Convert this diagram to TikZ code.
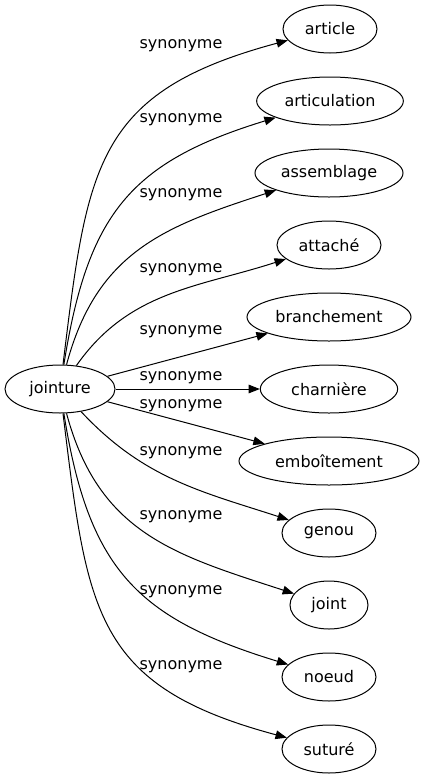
\documentclass[tikz,border=0pt]{standalone}
\usepackage{fontspec}
\setmainfont{DejaVu Sans}
\usetikzlibrary{shapes.geometric,arrows.meta}

\begin{document}
\begin{tikzpicture}[x=0.75pt,y=-0.75pt,
  word/.style={draw,ellipse,inner sep=0pt,minimum height=36pt,line width=0.75pt,font=\fontsize{12}{14}\selectfont},
  syn/.style={-{Triangle[length=8.5pt,width=6.5pt]},line width=0.75pt},
  synlabel/.style={font=\fontsize{12}{14}\selectfont}]
\useasboundingbox (0,0) rectangle (425,779);
\node[word,minimum width=82.5pt] (jointure) at (60,389) {jointure};
\node[word,minimum width=70.5pt] (article) at (330,29) {article};
\node[word,minimum width=110pt] (articulation) at (330,101) {articulation};
\node[word,minimum width=111pt] (assemblage) at (329,173) {assemblage};
\node[word,minimum width=78pt] (attache) at (329,245) {attaché};
\node[word,minimum width=123pt] (branchement) at (329,317) {branchement};
\node[word,minimum width=103pt] (charniere) at (329,389) {charnière};
\node[word,minimum width=135pt] (emboitement) at (329,461) {emboîtement};
\node[word,minimum width=70.5pt] (genou) at (329,533) {genou};
\node[word,minimum width=58.5pt] (joint) at (329,605) {joint};
\node[word,minimum width=70.5pt] (noeud) at (329,677) {noeud};
\node[word,minimum width=70.5pt] (suture) at (329,749) {suturé};
\draw[syn] (jointure) to[out=83,in=195,looseness=1.3] (article);
\draw[syn] (jointure) to[out=81,in=197,looseness=1.2] (articulation);
\draw[syn] (jointure) to[out=75,in=198,looseness=1.1] (assemblage);
\draw[syn] (jointure) to[out=55,in=198] (attache);
\draw[syn] (jointure) to[out=15,in=195] (branchement);
\draw[syn] (jointure) -- (charniere);
\draw[syn] (jointure) to[out=-15,in=165] (emboitement);
\draw[syn] (jointure) to[out=-47,in=162] (genou);
\draw[syn] (jointure) to[out=-75,in=162,looseness=1.1] (joint);
\draw[syn] (jointure) to[out=-81,in=163,looseness=1.2] (noeud);
\draw[syn] (jointure) to[out=-83,in=165,looseness=1.3] (suture);
\node[synlabel] (l1) at (181,46) {synonyme};
\node[synlabel] (l2) at (181,120) {synonyme};
\node[synlabel] (l3) at (181,195) {synonyme};
\node[synlabel] (l4) at (181,270) {synonyme};
\node[synlabel] (l5) at (181,332) {synonyme};
\node[synlabel] (l6) at (181,378) {synonyme};
\node[synlabel] (l7) at (181,406) {synonyme};
\node[synlabel] (l8) at (181,453) {synonyme};
\node[synlabel] (l9) at (181,517) {synonyme};
\node[synlabel] (l10) at (181,592) {synonyme};
\node[synlabel] (l11) at (181,667) {synonyme};
\end{tikzpicture}
\end{document}
